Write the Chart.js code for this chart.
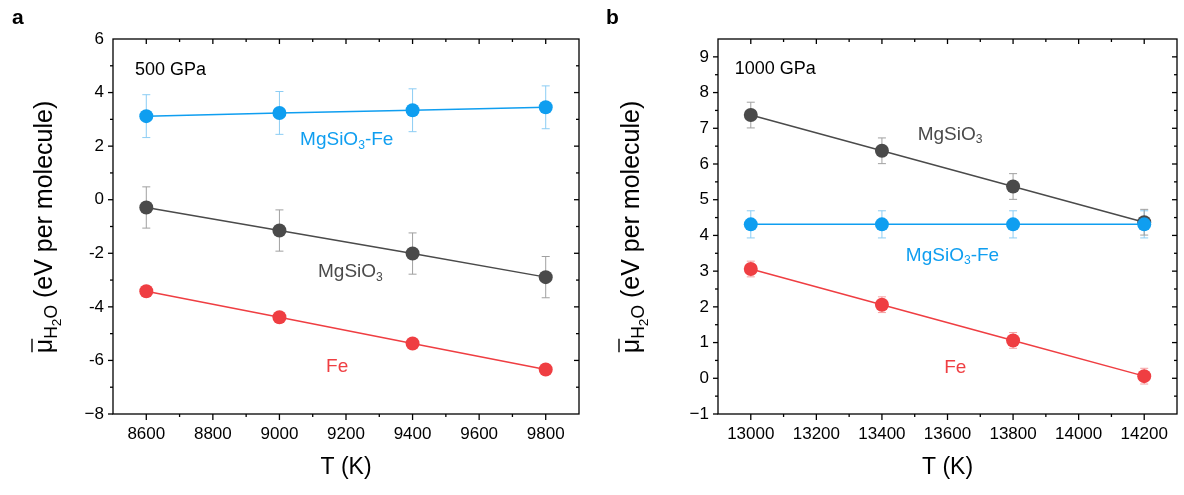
<!DOCTYPE html>
<html>
<head>
<meta charset="utf-8">
<script src="https://cdn.jsdelivr.net/npm/chart.js@4.4.1/dist/chart.umd.min.js"></script>
<style>
    body { margin: 0; background: #fff; font-family: "Liberation Sans", Arial, sans-serif; }
    #wrap { position: relative; width: 1184px; height: 495px; }
    canvas { position: absolute; top: 0; }
    #chartA { left: 0; }
    #chartB { left: 592px; }
    .panel-label { position: absolute; font-weight: bold; font-size: 21px; color: #000; }
</style>
</head>
<body>
<div id="wrap">
    <canvas id="chartA" width="592" height="495"></canvas>
    <canvas id="chartB" width="592" height="495"></canvas>
    <div class="panel-label" style="left:12px;top:5px">a</div>
    <div class="panel-label" style="left:606px;top:5px">b</div>
</div>
<script>
// panel a: 500 GPa
const tempsA = [8600, 9000, 9400, 9800];
const mgsio3FeA = [3.12, 3.24, 3.34, 3.45];
const mgsio3FeErrA = [0.80, 0.80, 0.80, 0.80];
const mgsio3A = [-0.29, -1.15, -2.01, -2.89];
const mgsio3ErrA = [0.77, 0.77, 0.77, 0.77];
const feA = [-3.42, -4.39, -5.37, -6.34];
const feErrA = [0.10, 0.10, 0.10, 0.10];
const xTicksA = [8600, 8800, 9000, 9200, 9400, 9600, 9800];
const yTicksA = [-8, -6, -4, -2, 0, 2, 4, 6];

// panel b: 1000 GPa
const tempsB = [13000, 13400, 13800, 14200];
const mgsio3FeB = [4.31, 4.31, 4.31, 4.31];
const mgsio3FeErrB = [0.38, 0.38, 0.38, 0.38];
const mgsio3B = [7.37, 6.37, 5.37, 4.37];
const mgsio3ErrB = [0.36, 0.36, 0.36, 0.36];
const feB = [3.06, 2.06, 1.06, 0.06];
const feErrB = [0.22, 0.22, 0.22, 0.22];
const xTicksB = [13000, 13200, 13400, 13600, 13800, 14000, 14200];
const yTicksB = [-1, 0, 1, 2, 3, 4, 5, 6, 7, 8, 9];

const BLUE = '#0f9ef0', BLUE_ERR = '#8ccdf4';
const GREY = '#4a4a4a', GREY_ERR = '#a0a0a0';
const RED = '#ef3e42', RED_ERR = '#f5a0a2';
const FONT = '"Liberation Sans", Arial, sans-serif';

// text with sub / sub-sub levels
function drawRich(ctx, parts, x, y, size, color, subScale = 0.64) {
    const sizes = [size, size * subScale, size * subScale * 0.78];
    const shifts = [0, size * 0.3, size * 0.48];
    ctx.fillStyle = color;
    ctx.textBaseline = 'middle';
    ctx.textAlign = 'left';
    let cx = x;
    parts.forEach(([t, lvl]) => {
        ctx.font = `${sizes[lvl]}px ${FONT}`;
        ctx.fillText(t, cx, y + shifts[lvl]);
        cx += ctx.measureText(t).width;
    });
    return cx - x;
}

function richWidth(ctx, parts, size, subScale = 0.64) {
    const sizes = [size, size * subScale, size * subScale * 0.78];
    let w = 0;
    parts.forEach(([t, lvl]) => {
        ctx.font = `${sizes[lvl]}px ${FONT}`;
        w += ctx.measureText(t).width;
    });
    return w;
}

const errorBars = {
    id: 'errorBars',
    beforeDatasetsDraw(chart) {
        const { ctx, scales: { x, y } } = chart;
        ctx.save();
        chart.data.datasets.forEach(ds => {
            ctx.strokeStyle = ds.errColor;
            ctx.lineWidth = 1;
            ds.data.forEach((p, i) => {
                const px = x.getPixelForValue(p.x);
                const top = y.getPixelForValue(p.y + ds.err[i]);
                const bot = y.getPixelForValue(p.y - ds.err[i]);
                ctx.beginPath();
                ctx.moveTo(px, top); ctx.lineTo(px, bot);
                ctx.moveTo(px - 4, top); ctx.lineTo(px + 4, top);
                ctx.moveTo(px - 4, bot); ctx.lineTo(px + 4, bot);
                ctx.stroke();
            });
        });
        ctx.restore();
    }
};

const frame = {
    id: 'frame',
    afterDraw(chart, args, opts) {
        const { ctx, chartArea: a, scales: { x, y } } = chart;
        ctx.save();
        ctx.strokeStyle = '#000';
        ctx.lineWidth = 1.3;
        ctx.strokeRect(a.left, a.top, a.right - a.left, a.bottom - a.top);
        const line = (x1, y1, x2, y2) => {
            ctx.beginPath(); ctx.moveTo(x1, y1); ctx.lineTo(x2, y2); ctx.stroke();
        };
        const isMajor = (scale, v) => scale.ticks.some(t => Math.abs(t.value - v) < 1e-6);
        for (let v = x.min + opts.xMinor; v < x.max - 1e-6; v += opts.xMinor) {
            const px = x.getPixelForValue(v);
            const m = isMajor(x, v);
            line(px, a.bottom, px, a.bottom + (m ? 6 : 3));
            line(px, a.top, px, a.top + (m ? 5 : 3));
        }
        for (let v = y.min + opts.yMinor; v < y.max - 1e-6; v += opts.yMinor) {
            const py = y.getPixelForValue(v);
            const m = isMajor(y, v);
            line(a.left, py, a.left - (m ? 5 : 3), py);
            line(a.right, py, a.right - (m ? 5 : 3), py);
        }
        // bottom-most major tick sits on the corner
        line(a.left, a.bottom, a.left - 5, a.bottom);

        // x title
        ctx.fillStyle = '#000';
        ctx.font = `23px ${FONT}`;
        ctx.textAlign = 'center';
        ctx.textBaseline = 'middle';
        ctx.fillText('T (K)', (a.left + a.right) / 2, 468);

        // y title, rotated
        const size = 25;
        const parts = [['\u03bc', 0], ['H', 1], ['2', 2], ['O', 1], [' (eV per molecule)', 0]];
        const w = richWidth(ctx, parts, size, 0.7);
        ctx.save();
        ctx.translate(opts.yTitleX, 227);
        ctx.rotate(-Math.PI / 2);
        drawRich(ctx, parts, -w / 2, 0, size, '#000', 0.7);
        ctx.font = `${size}px ${FONT}`;
        const mu = ctx.measureText('\u03bc').width;
        ctx.lineWidth = 1.4;
        line(-w / 2 + 1, -size * 0.52, -w / 2 + mu, -size * 0.52);
        ctx.restore();

        // notes
        opts.notes.forEach(n => {
            drawRich(ctx, n.parts, x.getPixelForValue(n.x), y.getPixelForValue(n.y), n.size, n.color);
        });
        ctx.restore();
    }
};

function makePanel(id, cfg) {
    const series = [
        { values: cfg.blue, errors: cfg.blueErr, color: BLUE, errColor: BLUE_ERR },
        { values: cfg.grey, errors: cfg.greyErr, color: GREY, errColor: GREY_ERR },
        { values: cfg.red, errors: cfg.redErr, color: RED, errColor: RED_ERR }
    ];
    const datasets = series.map(s => ({
        data: cfg.temps.map((t, i) => ({ x: t, y: s.values[i] })),
        err: s.errors,
        errColor: s.errColor,
        borderColor: s.color,
        backgroundColor: s.color,
        borderWidth: 1.5,
        pointRadius: 7,
        pointBorderWidth: 0,
        tension: 0
    }));
    const yMin = cfg.yMin;
    return new Chart(document.getElementById(id), {
        type: 'line',
        data: { datasets },
        options: {
            responsive: false,
            animation: false,
            events: [],
            layout: { padding: { top: 39, right: cfg.padRight, left: 0, bottom: 0 } },
            plugins: {
                legend: { display: false },
                tooltip: { enabled: false },
                frame: { xMinor: cfg.xMinor, yMinor: cfg.yMinor, yTitleX: cfg.yTitleX, notes: cfg.notes }
            },
            scales: {
                x: {
                    type: 'linear', min: cfg.xMin, max: cfg.xMax,
                    grid: { display: false, drawTicks: false },
                    border: { display: false },
                    afterBuildTicks: s => { s.ticks = cfg.xTicks.map(v => ({ value: v })); },
                    afterFit: s => { s.height = 81; },
                    ticks: {
                        color: '#000', padding: 10, maxRotation: 0, autoSkip: false,
                        font: { size: 17, family: FONT },
                        callback: v => String(v)
                    }
                },
                y: {
                    min: yMin, max: cfg.yMax,
                    grid: { display: false, drawTicks: false },
                    border: { display: false },
                    afterBuildTicks: s => { s.ticks = cfg.yTicks.map(v => ({ value: v })); },
                    afterFit: s => { s.width = cfg.yAxisWidth; },
                    ticks: {
                        color: '#000', padding: 9, autoSkip: false,
                        font: { size: 17, family: FONT },
                        callback: v => v === yMin ? '\u2212' + Math.abs(v) : String(v)
                    }
                }
            }
        },
        plugins: [errorBars, frame]
    });
}

makePanel('chartA', {
    temps: tempsA,
    blue: mgsio3FeA, blueErr: mgsio3FeErrA,
    grey: mgsio3A, greyErr: mgsio3ErrA,
    red: feA, redErr: feErrA,
    xMin: 8500, xMax: 9900, yMin: -8, yMax: 6,
    xTicks: xTicksA, yTicks: yTicksA, xMinor: 100, yMinor: 1,
    yAxisWidth: 113, padRight: 13, yTitleX: 45,
    notes: [
        { parts: [['500 GPa', 0]], x: 8566, y: 4.84, size: 18, color: '#000' },
        { parts: [['MgSiO', 0], ['3', 1], ['-Fe', 0]], x: 9062, y: 2.23, size: 19, color: BLUE },
        { parts: [['MgSiO', 0], ['3', 1]], x: 9116, y: -2.70, size: 19, color: GREY },
        { parts: [['Fe', 0]], x: 9140, y: -6.25, size: 19, color: RED }
    ]
});

makePanel('chartB', {
    temps: tempsB,
    blue: mgsio3FeB, blueErr: mgsio3FeErrB,
    grey: mgsio3B, greyErr: mgsio3ErrB,
    red: feB, redErr: feErrB,
    xMin: 12900, xMax: 14300, yMin: -1, yMax: 9.5,
    xTicks: xTicksB, yTicks: yTicksB, xMinor: 100, yMinor: 0.5,
    yAxisWidth: 126, padRight: 2, yTitleX: 40,
    notes: [
        { parts: [['1000 GPa', 0]], x: 12951, y: 8.66, size: 18, color: '#000' },
        { parts: [['MgSiO', 0], ['3', 1]], x: 13509, y: 6.83, size: 19, color: GREY },
        { parts: [['MgSiO', 0], ['3', 1], ['-Fe', 0]], x: 13473, y: 3.44, size: 19, color: BLUE },
        { parts: [['Fe', 0]], x: 13590, y: 0.29, size: 19, color: RED }
    ]
});
</script>
</body>
</html>
